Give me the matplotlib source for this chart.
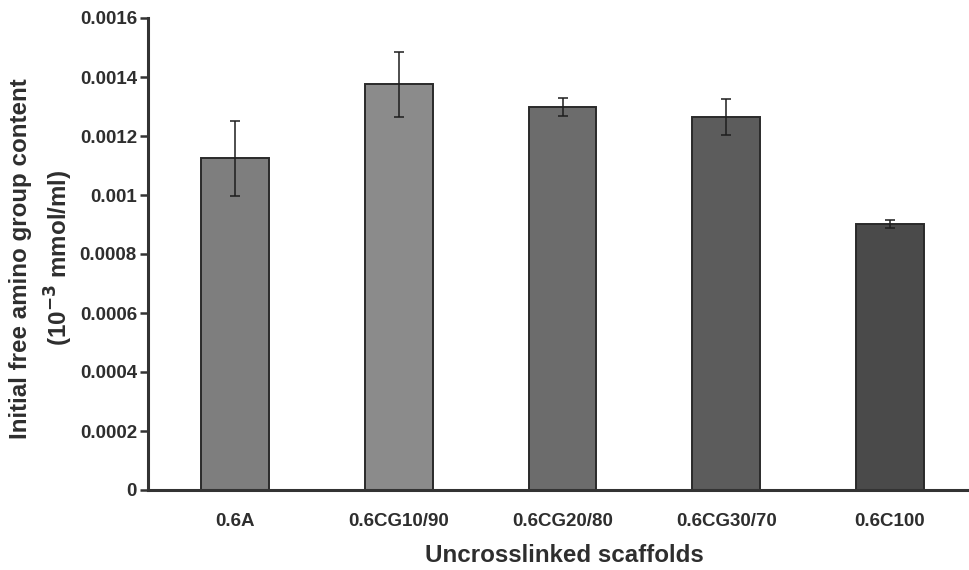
import matplotlib
matplotlib.use('Agg')
import matplotlib.pyplot as plt
import numpy as np

plt.rcParams['font.family'] = ['Liberation Sans', 'DejaVu Sans']

# free amino group content of uncrosslinked scaffolds (mean, sd)
scaffolds = ['0.6A', '0.6CG10/90', '0.6CG20/80', '0.6CG30/70', '0.6C100']
amino_mean = [0.001125, 0.001376, 0.001298, 0.001264, 0.000902]
amino_sd = [0.000127, 0.000110, 0.000030, 0.000062, 0.000014]
bar_colors = ['#7e7e7e', '#8b8b8b', '#6c6c6c', '#5c5c5c', '#4a4a4a']

yticks = [0, 0.0002, 0.0004, 0.0006, 0.0008, 0.001, 0.0012, 0.0014, 0.0016]
ytick_labels = ['0', '0.0002', '0.0004', '0.0006', '0.0008', '0.001',
                '0.0012', '0.0014', '0.0016']

text_col = '#2e2e2e'

fig = plt.figure(figsize=(9.69, 5.70), dpi=100)
ax = fig.add_axes([148 / 969, 1 - 490 / 570, 1 - 148 / 969, (490 - 18) / 570])

x = np.arange(len(scaffolds))
ax.bar(x, amino_mean, width=0.415, color=bar_colors, edgecolor='#2a2a2a',
       linewidth=1.4, zorder=2)
ax.errorbar(x, amino_mean, yerr=amino_sd, fmt='none', ecolor='#1e1e1e',
            elinewidth=1.1, capsize=3.5, capthick=1.1, zorder=3)

ax.set_xlim(-0.531, 4.482)
ax.set_ylim(0, 0.0016)
ax.set_yticks(yticks)
ax.set_yticklabels(ytick_labels)
ax.set_xticks(x)
ax.set_xticklabels(scaffolds)

for side in ['top', 'right']:
    ax.spines[side].set_visible(False)
for side in ['left', 'bottom']:
    ax.spines[side].set_linewidth(2.2)
    ax.spines[side].set_color('#333333')

ax.tick_params(axis='y', length=6, width=1.8, color='#333333', pad=2,
               labelsize=13.5, labelcolor=text_col)
ax.tick_params(axis='x', length=0, pad=16.5, labelsize=13.5, labelcolor=text_col)
for lab in ax.get_xticklabels() + ax.get_yticklabels():
    lab.set_fontweight('bold')

# axis titles
fig.text(564 / 969, 1 - 556 / 570, 'Uncrosslinked scaffolds', ha='center',
         va='center', fontsize=17.4, fontweight='bold', color=text_col)
fig.text(21 / 969, 1 - 259 / 570, 'Initial free amino group content',
         rotation=90, ha='center', va='center', fontsize=17.4,
         fontweight='bold', color=text_col)
fig.text(59 / 969, 1 - 258 / 570, r'(10$^{\mathbf{-3}}$ mmol/ml)',
         rotation=90, ha='center', va='center', fontsize=17.4,
         fontweight='bold', color=text_col)

fig.savefig('out.png', dpi=100)
